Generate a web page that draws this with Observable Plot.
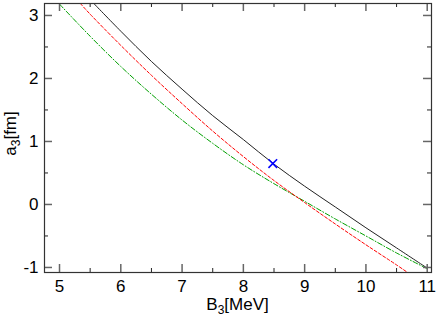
<!DOCTYPE html>
<html>
<head>
<meta charset="utf-8">
<script src="https://cdn.jsdelivr.net/npm/d3@7"></script>
<script src="https://cdn.jsdelivr.net/npm/@observablehq/plot@0.6"></script>
<style>
  html, body { margin: 0; padding: 0; background: #fff; }
</style>
</head>
<body>
<div id="chart"></div>
<script>
// ---- data ----
const xTicks = [5, 6, 7, 8, 9, 10, 11];
const xMinor = [5.5, 6.5, 7.5, 8.5, 9.5, 10.5];
const yTicks = [-1, 0, 1, 2, 3];
const yMinor = [-0.5, 0.5, 1.5, 2.5];

const blackB = [5.56, 6, 6.5, 7, 7.5, 8, 8.5, 9, 9.5, 10, 10.5, 11];
const blackA = [3.19, 2.75, 2.27, 1.83, 1.41, 1.03, 0.64, 0.29, -0.04, -0.37, -0.69, -1.01];

const redB = [5.34, 5.5, 6, 6.5, 7, 7.5, 8, 8.5, 9, 9.5, 10, 10.5, 10.68];
const redA = [3.19, 3.02, 2.525, 2.05, 1.60, 1.165, 0.76, 0.38, 0.03, -0.31, -0.64, -0.96, -1.08];

const greenB = [5.0, 5.5, 6, 6.5, 7, 7.5, 8, 8.5, 9, 9.5, 10, 10.5, 11];
const greenA = [3.18, 2.67, 2.19, 1.75, 1.34, 0.97, 0.63, 0.33, 0.05, -0.23, -0.50, -0.77, -1.02];

const pointB = [8.48];
const pointA = [0.65];

const xLabel = ["B", "3", "[MeV]"];
const yLabel = ["a", "3", "[fm]"];

// ---- build ----
const toRows = (xs, ys) => xs.map((x, i) => ({x, y: ys[i]}));
const W = 436, H = 319;
const mL = 44, mR = 5, mT = 3, mB = 47;
const innerW = W - mL - mR, innerH = H - mT - mB;

const chart = Plot.plot({
  width: W,
  height: H,
  marginLeft: mL,
  marginRight: mR,
  marginTop: mT,
  marginBottom: mB,
  style: {fontFamily: "'Liberation Sans', Arial, sans-serif", fontSize: "17px", background: "#fff", color: "#000"},
  x: {domain: [4.755, 11.07]},
  y: {domain: [-1.08, 3.19]},
  marks: [
    Plot.line(toRows(greenB, greenA), {x: "x", y: "y", stroke: "#00a000", strokeWidth: 1, strokeDasharray: "5,2,1,2", curve: "catmull-rom", clip: true}),
    Plot.line(toRows(redB, redA), {x: "x", y: "y", stroke: "#ff0000", strokeWidth: 1, strokeDasharray: "3,2", curve: "catmull-rom", clip: true}),
    Plot.line(toRows(blackB, blackA), {x: "x", y: "y", stroke: "#222", strokeWidth: 1, curve: "catmull-rom", clip: true}),
    Plot.dot(toRows(pointB, pointA), {x: "x", y: "y", symbol: "times", r: 4, stroke: "#0000ff", strokeWidth: 1.6}),
    // inward ticks: bottom, top, left, right
    Plot.ruleX(xTicks, {insetTop: innerH - 8, stroke: "#666", strokeWidth: 1.5}),
    Plot.ruleX(xTicks, {insetBottom: innerH - 8, stroke: "#666", strokeWidth: 1.5}),
    Plot.ruleX(xMinor, {insetTop: innerH - 4, stroke: "#222", strokeWidth: 1}),
    Plot.ruleX(xMinor, {insetBottom: innerH - 4, stroke: "#222", strokeWidth: 1}),
    Plot.ruleY(yTicks, {insetRight: innerW - 8, stroke: "#666", strokeWidth: 1.5}),
    Plot.ruleY(yTicks, {insetLeft: innerW - 8, stroke: "#666", strokeWidth: 1.5}),
    Plot.ruleY(yMinor, {insetRight: innerW - 4, stroke: "#222", strokeWidth: 1}),
    Plot.ruleY(yMinor, {insetLeft: innerW - 4, stroke: "#222", strokeWidth: 1}),
    Plot.axisX(xTicks, {tickSize: 0, tickPadding: 7, label: null, tickFormat: d => String(d), fontSize: 17}),
    Plot.axisY(yTicks, {tickSize: 0, tickPadding: 6, label: null, tickFormat: d => String(d), fontSize: 17}),
    Plot.frame({stroke: "#333", strokeWidth: 1.2})
  ]
});

document.getElementById("chart").appendChild(chart);

const svg = d3.select(chart);
const font = "'Liberation Sans', Arial, sans-serif";
const xl = svg.append("text")
  .attr("x", mL + innerW / 2).attr("y", 310)
  .attr("text-anchor", "middle").attr("font-family", font).attr("font-size", 17).attr("fill", "#000");
xl.append("tspan").text(xLabel[0]);
xl.append("tspan").attr("dy", 4).attr("font-size", 12).text(xLabel[1]);
xl.append("tspan").attr("dy", -4).text(xLabel[2]);

const yl = svg.append("text")
  .attr("transform", `translate(16,${mT + innerH / 2 - 4}) rotate(-90)`)
  .attr("text-anchor", "middle").attr("font-family", font).attr("font-size", 17).attr("fill", "#000");
yl.append("tspan").text(yLabel[0]);
yl.append("tspan").attr("dy", 4).attr("font-size", 12).text(yLabel[1]);
yl.append("tspan").attr("dy", -4).text(yLabel[2]);
</script>
</body>
</html>
